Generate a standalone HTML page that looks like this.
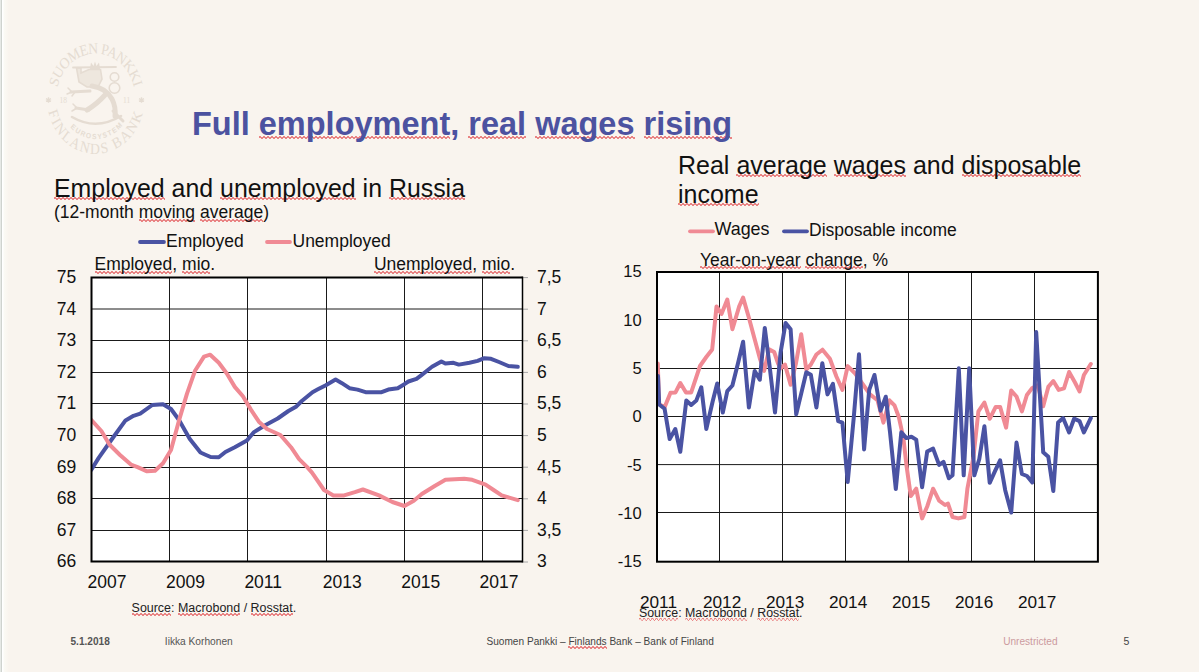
<!DOCTYPE html>
<html><head><meta charset="utf-8">
<style>
html,body{margin:0;padding:0;}
body{width:1199px;height:672px;position:relative;overflow:hidden;background:#f9f4ee;font-family:"Liberation Sans", sans-serif;}
.t{position:absolute;white-space:nowrap;}
.t u{text-decoration:none;background-image:linear-gradient(45deg,transparent 38%,#e98484 38%,#e98484 60%,transparent 60%),linear-gradient(-45deg,transparent 38%,#e98484 38%,#e98484 60%,transparent 60%);background-size:4px 2.5px,4px 2.5px;background-repeat:repeat-x;background-position:0 var(--uy),2px var(--uy);padding-bottom:3px;}
.edge{position:absolute;left:0;top:0;width:9px;height:672px;background:linear-gradient(90deg,#e6e9e6 0,#e6e9e6 1px,#cfd3cf 1px,#cfd3cf 2px,#ffffff 2px,#ffffff 3px,#fbfaf5 4px,#f9f4ee 9px);}
</style></head><body>
<div class="edge"></div>
<svg width="1199" height="672" style="position:absolute;left:0;top:0">
<defs>
<path id="arcTop" d="M -38.49 -8.89 A 39.5 39.5 0 0 1 38.49 -8.89"/>
<path id="arcBot" d="M -47.44 10.08 A 48.5 48.5 0 0 0 47.76 8.42"/>
<path id="arcIn" d="M -25.96 24.21 A 35.5 35.5 0 0 0 27.19 22.82"/>
</defs>
<g transform="translate(95.7 98.7) scale(1 1.14)" fill="#e5dcd2">
<text font-family="Liberation Serif, serif" font-size="13.6" textLength="104" lengthAdjust="spacing"><textPath href="#arcTop" startOffset="1">SUOMEN PANKKI</textPath></text>
<text font-family="Liberation Serif, serif" font-size="13.6" textLength="128" lengthAdjust="spacing"><textPath href="#arcBot" startOffset="1">FINLANDS BANK</textPath></text>
<text font-family="Liberation Sans, sans-serif" font-weight="700" font-size="6.6" textLength="58" lengthAdjust="spacing"><textPath href="#arcIn" startOffset="1">EUROSYSTEM</textPath></text>
</g>
<g fill="#e5dcd2" font-family="Liberation Serif, serif">
<text x="59.5" y="103" font-size="7.5">18</text>
<text x="123" y="103" font-size="7.5">11</text>
<path d="M48.5 97.2 L48.5 102.8 M46 98.6 L51 101.4 M46 101.4 L51 98.6" stroke="#e5dcd2" stroke-width="1.3" fill="none"/>
<path d="M141.5 97.2 L141.5 102.8 M139 98.6 L144 101.4 M139 101.4 L144 98.6" stroke="#e5dcd2" stroke-width="1.3" fill="none"/>
</g>
<g fill="none" stroke="#e5dcd2" stroke-linecap="round" stroke-linejoin="round">
<path d="M73 67.5 L116 67" stroke-width="1.8"/>
<path d="M92 86 Q106 88 112 99 Q116 107 115 116" stroke-width="5"/>
<path d="M105 95 Q97 104 87 110" stroke-width="5"/>
<path d="M90 91 L71 92" stroke-width="3"/>
<path d="M72 92 L68 88 M72 92 L67 94 M75 92 L72 96" stroke-width="1.5"/>
<path d="M89 110 L76 108" stroke-width="3"/>
<path d="M77 108 L73 104 M77 108 L72 111" stroke-width="1.5"/>
<path d="M72 117 Q96 131 121 116" stroke-width="2.6"/>
<path d="M113 111 L123 121" stroke-width="3"/>
<circle cx="114.5" cy="77" r="4.3" stroke-width="1.6"/>
<circle cx="114.5" cy="88" r="5.3" stroke-width="1.6"/>
</g>
<g fill="#e5dcd2">
<path d="M90 69 L91 62.5 L93.5 66 L95 61.5 L96.5 66 L99 62.5 L100 69 Z"/>
<path d="M76.5 68 L81 68 L81 73 L89 69.5 L100.5 69.5 L102 79 L98 87 L87 87 L79 82 Z" fill-opacity="0.55" stroke="#e5dcd2" stroke-width="1.6"/>
</g>
</svg>
<svg width="1199" height="672" style="position:absolute;left:0;top:0">
<rect x="91.5" y="277.6" width="431.0" height="284.0" fill="#ffffff"/>
<line x1="91.5" y1="309.00" x2="522.5" y2="309.00" stroke="#1a1a1a" stroke-width="1"/>
<line x1="91.5" y1="340.50" x2="522.5" y2="340.50" stroke="#1a1a1a" stroke-width="1"/>
<line x1="91.5" y1="372.50" x2="522.5" y2="372.50" stroke="#1a1a1a" stroke-width="1"/>
<line x1="91.5" y1="403.50" x2="522.5" y2="403.50" stroke="#1a1a1a" stroke-width="1"/>
<line x1="91.5" y1="435.50" x2="522.5" y2="435.50" stroke="#1a1a1a" stroke-width="1"/>
<line x1="91.5" y1="467.50" x2="522.5" y2="467.50" stroke="#1a1a1a" stroke-width="1"/>
<line x1="91.5" y1="498.50" x2="522.5" y2="498.50" stroke="#1a1a1a" stroke-width="1"/>
<line x1="91.5" y1="530.50" x2="522.5" y2="530.50" stroke="#1a1a1a" stroke-width="1"/>
<line x1="169.50" y1="277.6" x2="169.50" y2="561.6" stroke="#1a1a1a" stroke-width="1"/>
<line x1="247.50" y1="277.6" x2="247.50" y2="561.6" stroke="#1a1a1a" stroke-width="1"/>
<line x1="326.50" y1="277.6" x2="326.50" y2="561.6" stroke="#1a1a1a" stroke-width="1"/>
<line x1="404.50" y1="277.6" x2="404.50" y2="561.6" stroke="#1a1a1a" stroke-width="1"/>
<line x1="482.50" y1="277.6" x2="482.50" y2="561.6" stroke="#1a1a1a" stroke-width="1"/>
<line x1="522.5" y1="277.60" x2="528.0" y2="277.60" stroke="#a8a8a8" stroke-width="1"/>
<line x1="522.5" y1="309.20" x2="528.0" y2="309.20" stroke="#a8a8a8" stroke-width="1"/>
<line x1="522.5" y1="340.80" x2="528.0" y2="340.80" stroke="#a8a8a8" stroke-width="1"/>
<line x1="522.5" y1="372.40" x2="528.0" y2="372.40" stroke="#a8a8a8" stroke-width="1"/>
<line x1="522.5" y1="404.00" x2="528.0" y2="404.00" stroke="#a8a8a8" stroke-width="1"/>
<line x1="522.5" y1="435.60" x2="528.0" y2="435.60" stroke="#a8a8a8" stroke-width="1"/>
<line x1="522.5" y1="467.20" x2="528.0" y2="467.20" stroke="#a8a8a8" stroke-width="1"/>
<line x1="522.5" y1="498.80" x2="528.0" y2="498.80" stroke="#a8a8a8" stroke-width="1"/>
<line x1="522.5" y1="530.40" x2="528.0" y2="530.40" stroke="#a8a8a8" stroke-width="1"/>
<line x1="522.5" y1="562.00" x2="528.0" y2="562.00" stroke="#a8a8a8" stroke-width="1"/>
<clipPath id="cl"><rect x="91.5" y="277.6" width="431.0" height="284.0"/></clipPath>
<g clip-path="url(#cl)"><polyline points="91.2,470.0 98.7,457.9 112.0,439.0 125.5,420.4 133.5,415.8 140.2,413.7 152.3,405.0 163.0,404.3 171.0,409.0 179.0,420.0 189.8,439.0 200.5,452.5 205.4,454.7 210.7,457.0 218.8,457.3 225.4,452.0 234.8,447.2 246.9,440.5 253.6,432.4 264.3,425.7 277.7,418.5 288.4,411.0 296.4,406.4 301.8,401.0 312.5,392.2 317.4,389.6 325.4,385.5 335.6,379.6 341.5,382.9 349.5,388.2 357.5,389.6 365.6,392.2 381.6,392.2 388.3,389.6 397.7,388.2 404.4,384.2 408.4,381.5 416.5,378.8 421.8,374.8 432.0,366.8 441.4,361.4 445.4,363.6 453.5,362.8 458.8,364.6 469.5,362.8 477.6,360.9 484.3,358.2 491.0,358.8 499.0,362.0 508.4,366.0 517.8,366.8" fill="none" stroke="#4a53a3" stroke-width="4" stroke-linejoin="round" stroke-linecap="round"/>
<polyline points="91.2,419.8 101.4,431.0 109.4,444.5 120.0,455.0 130.9,464.6 137.6,467.2 147.0,471.3 155.0,470.7 163.0,463.2 171.0,450.0 179.0,420.4 187.0,393.6 195.0,370.8 204.0,356.6 210.2,354.7 218.8,362.8 226.8,373.5 234.8,386.9 242.9,396.3 250.9,409.6 258.9,421.7 267.0,429.0 280.4,435.0 291.0,447.2 299.1,459.2 307.2,467.2 312.0,472.6 324.0,490.0 333.4,495.4 344.1,495.4 354.9,492.2 362.9,489.5 379.0,495.4 392.4,502.0 404.4,506.0 413.8,500.7 421.8,494.0 434.7,486.0 445.4,479.8 464.2,478.8 472.2,479.8 485.6,484.7 493.6,490.0 501.7,495.4 517.8,500.2" fill="none" stroke="#f08a94" stroke-width="4" stroke-linejoin="round" stroke-linecap="round"/></g>
<path d="M522.5 277.6 L91.5 277.6 L91.5 561.6 L522.5 561.6" fill="none" stroke="#000" stroke-width="2"/>
<line x1="522.5" y1="276.6" x2="522.5" y2="562.6" stroke="#000" stroke-width="1.5"/>
<line x1="140" y1="242" x2="164" y2="242" stroke="#4a53a3" stroke-width="3.8" stroke-linecap="round"/>
<line x1="267" y1="242" x2="290" y2="242" stroke="#f08a94" stroke-width="3.8" stroke-linecap="round"/>
<rect x="657" y="272" width="440.9000000000001" height="289.70000000000005" fill="#ffffff"/>
<line x1="657" y1="319.50" x2="1097.9" y2="319.50" stroke="#1a1a1a" stroke-width="1"/>
<line x1="657" y1="368.50" x2="1097.9" y2="368.50" stroke="#1a1a1a" stroke-width="1"/>
<line x1="657" y1="416.50" x2="1097.9" y2="416.50" stroke="#1a1a1a" stroke-width="1"/>
<line x1="657" y1="464.60" x2="1097.9" y2="464.60" stroke="#1a1a1a" stroke-width="1"/>
<line x1="657" y1="512.50" x2="1097.9" y2="512.50" stroke="#1a1a1a" stroke-width="1"/>
<line x1="719.50" y1="272" x2="719.50" y2="561.7" stroke="#1a1a1a" stroke-width="1"/>
<line x1="782.50" y1="272" x2="782.50" y2="561.7" stroke="#1a1a1a" stroke-width="1"/>
<line x1="845.50" y1="272" x2="845.50" y2="561.7" stroke="#1a1a1a" stroke-width="1"/>
<line x1="908.50" y1="272" x2="908.50" y2="561.7" stroke="#1a1a1a" stroke-width="1"/>
<line x1="971.50" y1="272" x2="971.50" y2="561.7" stroke="#1a1a1a" stroke-width="1"/>
<line x1="1034.50" y1="272" x2="1034.50" y2="561.7" stroke="#1a1a1a" stroke-width="1"/>
<clipPath id="cr"><rect x="657" y="272" width="440.9000000000001" height="289.70000000000005"/></clipPath>
<g clip-path="url(#cr)"><polyline points="657.8,363.5 659.0,404.0 664.5,407.5 670.5,392.7 675.5,392.4 680.3,383.0 686.0,392.5 691.2,392.4 700.0,366.0 706.3,357.0 712.2,349.4 716.5,306.4 721.5,314.0 727.3,299.6 732.4,329.2 739.2,306.4 743.1,297.6 748.9,317.8 754.0,336.8 759.8,358.3 764.1,370.9 769.1,349.4 774.2,352.0 778.0,363.3 780.5,368.4 785.0,364.6 790.6,384.8 795.7,364.6 801.2,334.2 806.3,369.6 810.8,364.6 816.4,354.5 822.5,349.7 829.9,358.7 836.4,376.5 842.4,389.9 847.7,366.1 855.2,373.5 862.6,384.0 870.0,394.4 877.5,400.3 883.4,422.6 889.4,400.3 894.5,405.4 898.9,417.3 903.4,438.1 906.4,464.9 910.8,496.1 916.2,488.7 922.1,518.4 927.2,506.5 933.1,488.7 939.1,500.6 945.0,505.0 948.0,503.6 952.5,517.0 958.4,518.4 964.4,517.0 967.4,488.7 973.4,457.5 978.4,411.4 984.4,402.5 989.7,418.8 995.7,406.9 1000.1,406.9 1006.1,427.7 1011.2,390.6 1016.5,396.5 1021.9,411.4 1026.9,395.0 1031.9,388.4 1037.8,385.4 1043.2,406.2 1048.3,386.9 1053.3,381.0 1058.7,389.9 1064.0,388.4 1069.1,372.0 1075.0,382.5 1079.5,391.4 1083.9,375.0 1090.8,364.0" fill="none" stroke="#f08a94" stroke-width="4" stroke-linejoin="round" stroke-linecap="round"/>
<polyline points="658.0,376.0 659.2,404.5 664.6,408.8 669.7,439.1 675.3,429.0 680.3,451.8 686.3,400.5 691.2,405.0 696.3,400.6 701.3,387.3 706.3,429.0 712.7,401.2 717.2,383.5 722.8,412.6 727.3,391.1 732.4,385.5 738.0,363.3 743.1,341.8 748.9,407.5 754.7,370.9 759.8,379.7 764.8,328.0 769.9,368.4 775.0,412.6 780.5,353.2 785.6,322.9 790.6,329.2 796.2,414.4 801.2,393.6 806.3,372.2 810.8,374.7 816.4,407.5 822.3,363.2 827.5,394.4 832.9,383.9 838.2,421.1 842.4,422.6 847.7,482.1 853.7,418.1 859.0,354.2 864.1,449.4 869.2,389.9 874.5,375.0 880.5,410.7 885.8,396.7 890.0,432.0 895.8,489.0 901.3,432.2 906.4,438.1 911.4,436.7 916.2,439.6 922.1,487.2 927.2,451.5 933.1,448.6 939.1,464.9 943.5,461.9 948.9,478.3 952.5,475.3 958.8,368.3 963.7,475.3 969.2,368.3 974.3,475.3 979.3,459.0 984.4,426.2 989.7,482.8 995.1,470.9 1000.1,460.4 1005.2,490.2 1011.2,512.5 1016.5,442.6 1021.9,474.0 1027.0,476.0 1032.3,482.5 1036.2,332.0 1043.2,452.3 1048.3,456.8 1053.3,491.0 1058.1,422.6 1063.1,418.1 1069.1,432.4 1074.1,418.7 1079.5,421.1 1083.9,432.4 1090.8,418.1" fill="none" stroke="#4a53a3" stroke-width="4" stroke-linejoin="round" stroke-linecap="round"/></g>
<rect x="657" y="272" width="440.9000000000001" height="289.70000000000005" fill="none" stroke="#000" stroke-width="2"/>
<line x1="690" y1="231.3" x2="713" y2="231.3" stroke="#f08a94" stroke-width="3.8" stroke-linecap="round"/>
<line x1="784" y1="231.3" x2="807" y2="231.3" stroke="#4a53a3" stroke-width="3.8" stroke-linecap="round"/>
</svg>
<div class="t" style="--uy:30.2px;left:192.00px;top:108.09px;font-size:32.5px;line-height:32.5px;font-weight:700;color:#4c52a0;">Full <u>employment</u>, <u>real</u> <u>wages</u> <u>rising</u></div>
<div class="t" style="--uy:23.3px;left:54.00px;top:175.92px;font-size:24.9px;line-height:24.9px;font-weight:400;color:#111111;"><u>Employed</u> and <u>unemployed</u> in <u>Russia</u></div>
<div class="t" style="--uy:16.6px;left:54.00px;top:204.39px;font-size:17.5px;line-height:17.5px;font-weight:400;color:#111111;">(12-month <u>moving</u> <u>average</u>)</div>
<div class="t" style="--uy:16.6px;left:166.00px;top:232.59px;font-size:17.5px;line-height:17.5px;font-weight:400;color:#111111;">Employed</div>
<div class="t" style="--uy:16.6px;left:292.50px;top:232.59px;font-size:17.5px;line-height:17.5px;font-weight:400;color:#111111;">Unemployed</div>
<div class="t" style="--uy:16.6px;left:94.50px;top:256.19px;font-size:17.5px;line-height:17.5px;font-weight:400;color:#111111;"><u>Employed</u>, <u>mio</u>.</div>
<div class="t" style="--uy:16.6px;right:684.00px;top:256.19px;font-size:17.5px;line-height:17.5px;font-weight:400;color:#111111;"><u>Unemployed</u>, <u>mio</u>.</div>
<div class="t" style="--uy:16.6px;right:1122.80px;top:268.99px;font-size:17.5px;line-height:17.5px;font-weight:400;color:#111111;">75</div>
<div class="t" style="--uy:16.6px;right:1122.80px;top:300.59px;font-size:17.5px;line-height:17.5px;font-weight:400;color:#111111;">74</div>
<div class="t" style="--uy:16.6px;right:1122.80px;top:332.19px;font-size:17.5px;line-height:17.5px;font-weight:400;color:#111111;">73</div>
<div class="t" style="--uy:16.6px;right:1122.80px;top:363.79px;font-size:17.5px;line-height:17.5px;font-weight:400;color:#111111;">72</div>
<div class="t" style="--uy:16.6px;right:1122.80px;top:395.39px;font-size:17.5px;line-height:17.5px;font-weight:400;color:#111111;">71</div>
<div class="t" style="--uy:16.6px;right:1122.80px;top:426.99px;font-size:17.5px;line-height:17.5px;font-weight:400;color:#111111;">70</div>
<div class="t" style="--uy:16.6px;right:1122.80px;top:458.59px;font-size:17.5px;line-height:17.5px;font-weight:400;color:#111111;">69</div>
<div class="t" style="--uy:16.6px;right:1122.80px;top:490.19px;font-size:17.5px;line-height:17.5px;font-weight:400;color:#111111;">68</div>
<div class="t" style="--uy:16.6px;right:1122.80px;top:521.79px;font-size:17.5px;line-height:17.5px;font-weight:400;color:#111111;">67</div>
<div class="t" style="--uy:16.6px;right:1122.80px;top:553.39px;font-size:17.5px;line-height:17.5px;font-weight:400;color:#111111;">66</div>
<div class="t" style="--uy:16.6px;left:537.00px;top:268.99px;font-size:17.5px;line-height:17.5px;font-weight:400;color:#111111;">7,5</div>
<div class="t" style="--uy:16.6px;left:537.00px;top:300.59px;font-size:17.5px;line-height:17.5px;font-weight:400;color:#111111;">7</div>
<div class="t" style="--uy:16.6px;left:537.00px;top:332.19px;font-size:17.5px;line-height:17.5px;font-weight:400;color:#111111;">6,5</div>
<div class="t" style="--uy:16.6px;left:537.00px;top:363.79px;font-size:17.5px;line-height:17.5px;font-weight:400;color:#111111;">6</div>
<div class="t" style="--uy:16.6px;left:537.00px;top:395.39px;font-size:17.5px;line-height:17.5px;font-weight:400;color:#111111;">5,5</div>
<div class="t" style="--uy:16.6px;left:537.00px;top:426.99px;font-size:17.5px;line-height:17.5px;font-weight:400;color:#111111;">5</div>
<div class="t" style="--uy:16.6px;left:537.00px;top:458.59px;font-size:17.5px;line-height:17.5px;font-weight:400;color:#111111;">4,5</div>
<div class="t" style="--uy:16.6px;left:537.00px;top:490.19px;font-size:17.5px;line-height:17.5px;font-weight:400;color:#111111;">4</div>
<div class="t" style="--uy:16.6px;left:537.00px;top:521.79px;font-size:17.5px;line-height:17.5px;font-weight:400;color:#111111;">3,5</div>
<div class="t" style="--uy:16.6px;left:537.00px;top:553.39px;font-size:17.5px;line-height:17.5px;font-weight:400;color:#111111;">3</div>
<div class="t" style="--uy:16.6px;left:87.60px;top:574.19px;font-size:17.5px;line-height:17.5px;font-weight:400;color:#111111;">2007</div>
<div class="t" style="--uy:16.6px;left:166.00px;top:574.19px;font-size:17.5px;line-height:17.5px;font-weight:400;color:#111111;">2009</div>
<div class="t" style="--uy:16.6px;left:244.40px;top:574.19px;font-size:17.5px;line-height:17.5px;font-weight:400;color:#111111;">2011</div>
<div class="t" style="--uy:16.6px;left:322.80px;top:574.19px;font-size:17.5px;line-height:17.5px;font-weight:400;color:#111111;">2013</div>
<div class="t" style="--uy:16.6px;left:401.20px;top:574.19px;font-size:17.5px;line-height:17.5px;font-weight:400;color:#111111;">2015</div>
<div class="t" style="--uy:16.6px;left:479.60px;top:574.19px;font-size:17.5px;line-height:17.5px;font-weight:400;color:#111111;">2017</div>
<div class="t" style="--uy:12.1px;left:131.60px;top:602.26px;font-size:12.45px;line-height:12.45px;font-weight:400;color:#222222;"><u>Source</u>: <u>Macrobond</u> / <u>Rosstat</u>.</div>
<div class="t" style="--uy:23.4px;left:678.00px;top:153.04px;font-size:25px;line-height:25px;font-weight:400;color:#111111;">Real <u>average</u> <u>wages</u> and <u>disposable</u></div>
<div class="t" style="--uy:23.4px;left:678.00px;top:181.84px;font-size:25px;line-height:25px;font-weight:400;color:#111111;"><u>income</u></div>
<div class="t" style="--uy:17.0px;left:714.50px;top:221.45px;font-size:17.9px;line-height:17.9px;font-weight:400;color:#111111;">Wages</div>
<div class="t" style="--uy:16.6px;left:809.00px;top:221.79px;font-size:17.5px;line-height:17.5px;font-weight:400;color:#111111;">Disposable income</div>
<div class="t" style="--uy:16.6px;left:700.00px;top:251.79px;font-size:17.5px;line-height:17.5px;font-weight:400;color:#111111;"><u>Year-on-year</u> <u>change</u>, %</div>
<div class="t" style="--uy:15.7px;right:557.40px;top:263.43px;font-size:16.5px;line-height:16.5px;font-weight:400;color:#111111;">15</div>
<div class="t" style="--uy:15.7px;right:557.40px;top:311.72px;font-size:16.5px;line-height:16.5px;font-weight:400;color:#111111;">10</div>
<div class="t" style="--uy:15.7px;right:557.40px;top:360.00px;font-size:16.5px;line-height:16.5px;font-weight:400;color:#111111;">5</div>
<div class="t" style="--uy:15.7px;right:557.40px;top:408.28px;font-size:16.5px;line-height:16.5px;font-weight:400;color:#111111;">0</div>
<div class="t" style="--uy:15.7px;right:557.40px;top:456.57px;font-size:16.5px;line-height:16.5px;font-weight:400;color:#111111;">-5</div>
<div class="t" style="--uy:15.7px;right:557.40px;top:504.85px;font-size:16.5px;line-height:16.5px;font-weight:400;color:#111111;">-10</div>
<div class="t" style="--uy:15.7px;right:557.40px;top:553.13px;font-size:16.5px;line-height:16.5px;font-weight:400;color:#111111;">-15</div>
<div class="t" style="--uy:16.4px;left:640.00px;top:594.24px;font-size:17.2px;line-height:17.2px;font-weight:400;color:#111111;">2011</div>
<div class="t" style="--uy:16.4px;left:703.00px;top:594.24px;font-size:17.2px;line-height:17.2px;font-weight:400;color:#111111;">2012</div>
<div class="t" style="--uy:16.4px;left:766.00px;top:594.24px;font-size:17.2px;line-height:17.2px;font-weight:400;color:#111111;">2013</div>
<div class="t" style="--uy:16.4px;left:829.00px;top:594.24px;font-size:17.2px;line-height:17.2px;font-weight:400;color:#111111;">2014</div>
<div class="t" style="--uy:16.4px;left:892.00px;top:594.24px;font-size:17.2px;line-height:17.2px;font-weight:400;color:#111111;">2015</div>
<div class="t" style="--uy:16.4px;left:955.00px;top:594.24px;font-size:17.2px;line-height:17.2px;font-weight:400;color:#111111;">2016</div>
<div class="t" style="--uy:16.4px;left:1018.00px;top:594.24px;font-size:17.2px;line-height:17.2px;font-weight:400;color:#111111;">2017</div>
<div class="t" style="--uy:11.7px;left:638.50px;top:607.44px;font-size:12.0px;line-height:12.0px;font-weight:400;color:#222222;transform:scale(1.03,1.0);transform-origin:left top;"><u>Source</u>: <u>Macrobond</u> / <u>Rosstat</u>.</div>
<div class="t" style="--uy:9.9px;left:70.50px;top:636.75px;font-size:10.1px;line-height:10.1px;font-weight:700;color:#555555;">5.1.2018</div>
<div class="t" style="--uy:10.0px;left:164.80px;top:636.67px;font-size:10.2px;line-height:10.2px;font-weight:400;color:#555555;">Iikka Korhonen</div>
<div class="t" style="--uy:9.9px;left:486.50px;top:636.75px;font-size:10.1px;line-height:10.1px;font-weight:400;color:#444444;">Suomen Pankki – <u>Finlands</u> Bank – Bank of Finland</div>
<div class="t" style="--uy:9.9px;left:1003.20px;top:636.65px;font-size:10.1px;line-height:10.1px;font-weight:400;color:#cc9a9e;">Unrestricted</div>
<div class="t" style="--uy:10.3px;left:1123.50px;top:636.41px;font-size:10.5px;line-height:10.5px;font-weight:400;color:#444444;">5</div>
</body></html>
